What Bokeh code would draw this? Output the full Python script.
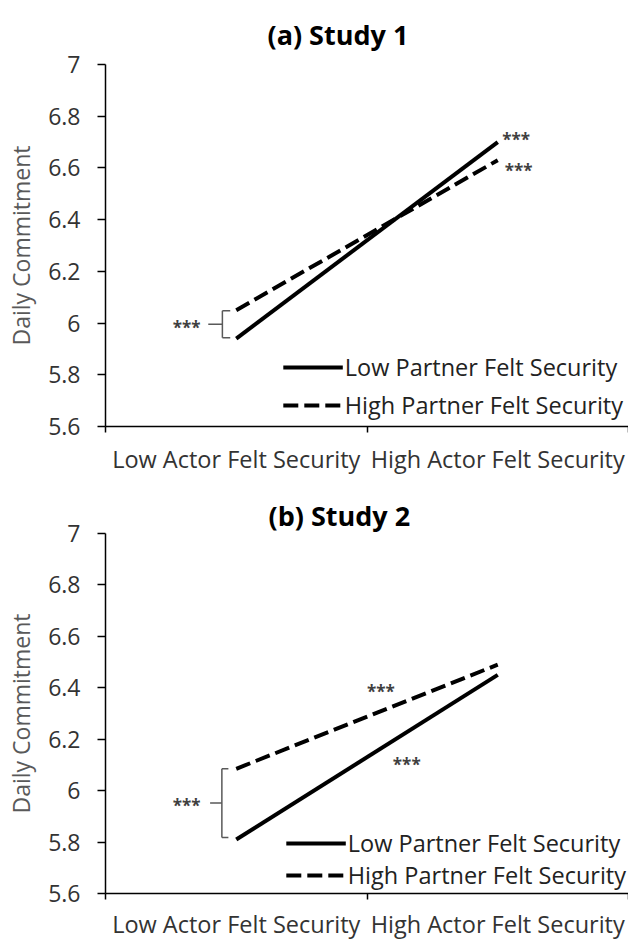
from bokeh.plotting import figure
from bokeh.models import (Range1d, FixedTicker, CustomJSTickFormatter, Legend, LegendItem, Title)
from bokeh.layouts import column
from bokeh.embed import file_html
from bokeh.resources import INLINE
from bokeh.core.properties import value

# ---------------- data ----------------
categories = ["Low Actor Felt Security", "High Actor Felt Security"]
series_names = ["Low Partner Felt Security", "High Partner Felt Security"]
y_ticks = [5.6, 5.8, 6.0, 6.2, 6.4, 6.6, 6.8, 7.0]

study1_low_partner = [5.94, 6.70]
study1_high_partner = [6.05, 6.63]
study2_low_partner = [5.81, 6.45]
study2_high_partner = [6.085, 6.49]

# significance marks (x in category units, y in data units)
study1_stars_x = [0.31, 1.57, 1.58]
study1_stars_y = [6.00, 6.726, 6.604]
study2_stars_x = [0.31, 1.053, 1.152]
study2_stars_y = [5.956, 6.40, 6.117]
# brackets: (x_stub_start, x_vertical, x_arm_end, y_bottom, y_top)
study1_bracket = (0.393, 0.447, 0.477, 5.943, 6.048)
study2_bracket = (0.40, 0.445, 0.47, 5.818, 6.085)

FONT = "Open Sans"
TEXT_COL = "#333333"


def make_panel(title, low_vals, high_vals, stars_x, stars_y, bracket,
               height, border_left, border_top, border_bottom, title_standoff, title_offset,
               legend_margin, legend_spacing, xlabel_standoff):
    xs = [i + 0.5 for i in range(len(categories))]
    p = figure(width=628, height=height, output_backend="svg", toolbar_location=None,
               x_range=Range1d(0, len(categories)), y_range=Range1d(y_ticks[0], y_ticks[-1]),
               min_border_left=border_left, min_border_right=0, min_border_top=border_top,
               min_border_bottom=border_bottom)
    p.title = None
    t = Title(text=title, align="left", offset=title_offset, text_font=FONT, text_font_size="27px",
              text_font_style="bold", text_color="#000000", standoff=title_standoff)
    p.add_layout(t, "above")
    p.outline_line_color = None
    p.xgrid.grid_line_color = None
    p.ygrid.grid_line_color = None
    p.background_fill_color = "white"

    # x axis
    xa = p.xaxis[0]
    xa.ticker = FixedTicker(ticks=xs, minor_ticks=list(range(len(categories) + 1)))
    xa.major_label_overrides = {x: c for x, c in zip(xs, categories)}
    xa.major_tick_line_color = None
    xa.major_tick_out = 0
    xa.major_tick_in = 0
    xa.minor_tick_line_color = "black"
    xa.minor_tick_line_width = 1.5
    xa.minor_tick_out = 6
    xa.minor_tick_in = 0
    xa.axis_line_color = "black"
    xa.axis_line_width = 1.5
    xa.major_label_text_font = FONT
    xa.major_label_text_font_size = "23.5px"
    xa.major_label_text_color = TEXT_COL
    xa.major_label_standoff = xlabel_standoff

    # y axis
    ya = p.yaxis[0]
    ya.ticker = FixedTicker(ticks=y_ticks, minor_ticks=[])
    ya.formatter = CustomJSTickFormatter(code="return Number(tick.toFixed(1)).toString();")
    ya.major_tick_out = 8
    ya.major_tick_in = 0
    ya.major_tick_line_width = 1.5
    ya.axis_line_width = 1.5
    ya.major_label_text_font = FONT
    ya.major_label_text_font_size = "23px"
    ya.major_label_text_color = TEXT_COL
    ya.major_label_standoff = 17
    ya.axis_label = "Daily Commitment"
    ya.axis_label_text_font = FONT
    ya.axis_label_text_font_size = "23px"
    ya.axis_label_text_font_style = "normal"
    ya.axis_label_text_color = "#595959"
    ya.axis_label_standoff = 8

    r_low = p.line(xs, low_vals, line_color="black", line_width=4)
    r_high = p.line(xs, high_vals, line_color="black", line_width=4, line_dash="15 6")

    # bracket
    x0, xv, x1, yb, yt = bracket
    ym = (yb + yt) / 2
    p.segment(x0=[x0, xv, xv, xv], y0=[ym, yb, yb, yt], x1=[xv, xv, x1, x1], y1=[ym, yt, yb, yt],
              line_color="#595959", line_width=1.5)
    p.text(x=stars_x, y=stars_y, text=["***"] * len(stars_x), text_font=value(FONT),
           text_font_size="17px", text_font_style="bold", text_color="#404040",
           text_align="center", text_baseline="middle", y_offset=4)

    legend = Legend(items=[LegendItem(label=series_names[0], renderers=[r_low]),
                           LegendItem(label=series_names[1], renderers=[r_high])],
                    location="bottom_right", label_text_font=FONT, label_text_font_size="23.5px",
                    label_text_color="#222222", glyph_width=60, glyph_height=22,
                    label_standoff=2, spacing=legend_spacing, padding=0, margin=legend_margin,
                    border_line_color=None, background_fill_alpha=0)
    p.add_layout(legend)
    return p


pa = make_panel("(a) Study 1", study1_low_partner, study1_high_partner,
                study1_stars_x, study1_stars_y, study1_bracket,
                height=488, border_left=105, border_top=64, border_bottom=62,
                title_standoff=23, title_offset=162,
                legend_margin=5, legend_spacing=6, xlabel_standoff=10)
pb = make_panel("(b) Study 2", study2_low_partner, study2_high_partner,
                study2_stars_x, study2_stars_y, study2_bracket,
                height=454, border_left=101, border_top=45, border_bottom=47,
                title_standoff=0, title_offset=163,
                legend_margin=2, legend_spacing=0, xlabel_standoff=8)

layout = column(pa, pb, spacing=0)
open("out.html", "w").write(file_html(layout, INLINE))
